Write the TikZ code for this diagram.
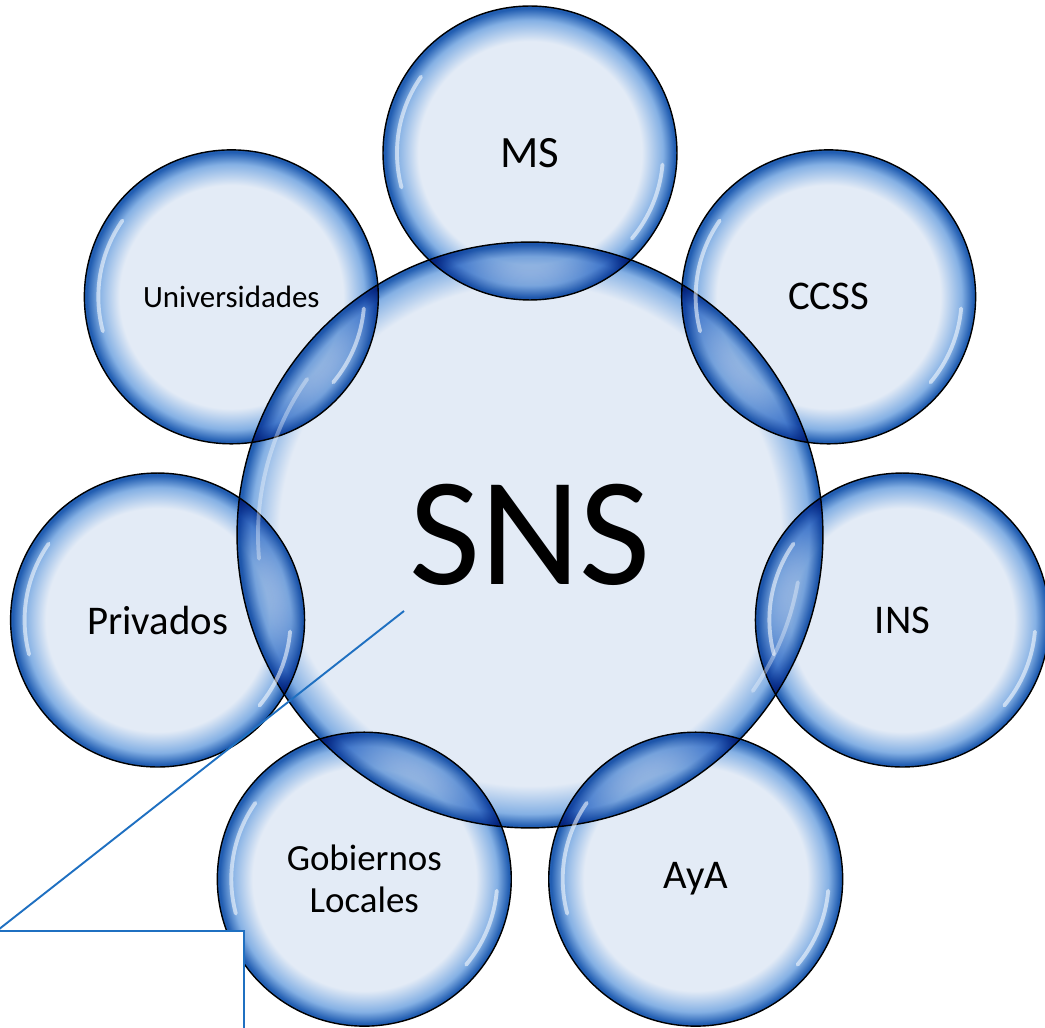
\documentclass[tikz,border=0pt]{standalone}
\usepackage{fontspec}
\setmainfont{Carlito}
\usetikzlibrary{positioning}

\definecolor{bubin}{RGB}{227,235,246}
\definecolor{bubmid}{RGB}{132,176,228}
\definecolor{bubdark}{RGB}{34,94,178}
\definecolor{callblue}{RGB}{31,112,193}

\pgfdeclareradialshading{bubble}{\pgfpoint{0bp}{0bp}}{color(0bp)=(bubin); color(19bp)=(bubin); color(22.6bp)=(bubmid); color(24.6bp)=(bubdark); color(25bp)=(bubdark); color(50bp)=(bubdark)}
\pgfdeclareradialshading{bigbubble}{\pgfpoint{0bp}{0bp}}{color(0bp)=(bubin); color(21.4bp)=(bubin); color(23.8bp)=(bubmid); color(24.8bp)=(bubdark); color(25bp)=(bubdark); color(50bp)=(bubdark)}

\tikzset{
  bubble/.style={circle, draw=black, line width=0.8pt, shade, shading=bubble,
    blend mode=multiply, minimum size=5.88cm, inner sep=0pt,
    align=center, font=\fontsize{23.2}{28}\selectfont},
  core/.style={bubble, shading=bigbubble, minimum size=11.72cm,
    font=\fontsize{88}{100}\selectfont},
  glint/.style={white, line width=2.2pt, opacity=0.55, line cap=round},
  callout/.style={callblue, line width=1.1pt},
  notebox/.style={draw=callblue, line width=1.1pt, fill=white, inner sep=0pt,
    minimum width=4.9cm, minimum height=3cm, anchor=north west},
}

\begin{document}
\begin{tikzpicture}[x=0.02cm, y=0.02cm]
  \useasboundingbox (-530,-493) rectangle (515,535);
  \clip (-530,-493) rectangle (515,535);

  % seven partners round the system
  \node[bubble, font=\fontsize{25.5}{30}\selectfont] (ms) at (90:382) {MS};
  \node[bubble] (ccss) at (38.57:382) {CCSS};
  \node[bubble] (ins) at (-12.86:382) {INS};
  \node[bubble] (aya) at (-64.29:382) {AyA};
  \node[bubble, font=\fontsize{21}{23.8}\selectfont] (gob) at (-115.71:382) {Gobiernos\\Locales};
  \node[bubble] (priv) at (-167.14:382) {Privados};
  \node[bubble, font=\fontsize{17.6}{21}\selectfont] (univ) at (141.43:382) {Universidades};

  \node[core] (sns) at (0,0) {SNS};

  \foreach \n in {ms,ccss,ins,aya,gob,priv,univ} {
    \draw[glint] (\n.center) ++(145:133) arc[start angle=145, end angle=195, radius=133];
    \draw[glint] (\n.center) ++(-5:133) arc[start angle=-5, end angle=-40, radius=133];
  }
  \draw[glint, opacity=0.35] (sns.center) ++(145:272) arc[start angle=145, end angle=185, radius=272];
  \draw[glint, opacity=0.35] (sns.center) ++(-10:272) arc[start angle=-10, end angle=-35, radius=272];

  % callout
  \coordinate (tip) at (-126,-76);
  \node[notebox] (note) at (-532,-395) {};
  \draw[callout] (tip) -- (note.north west);
\end{tikzpicture}
\end{document}
